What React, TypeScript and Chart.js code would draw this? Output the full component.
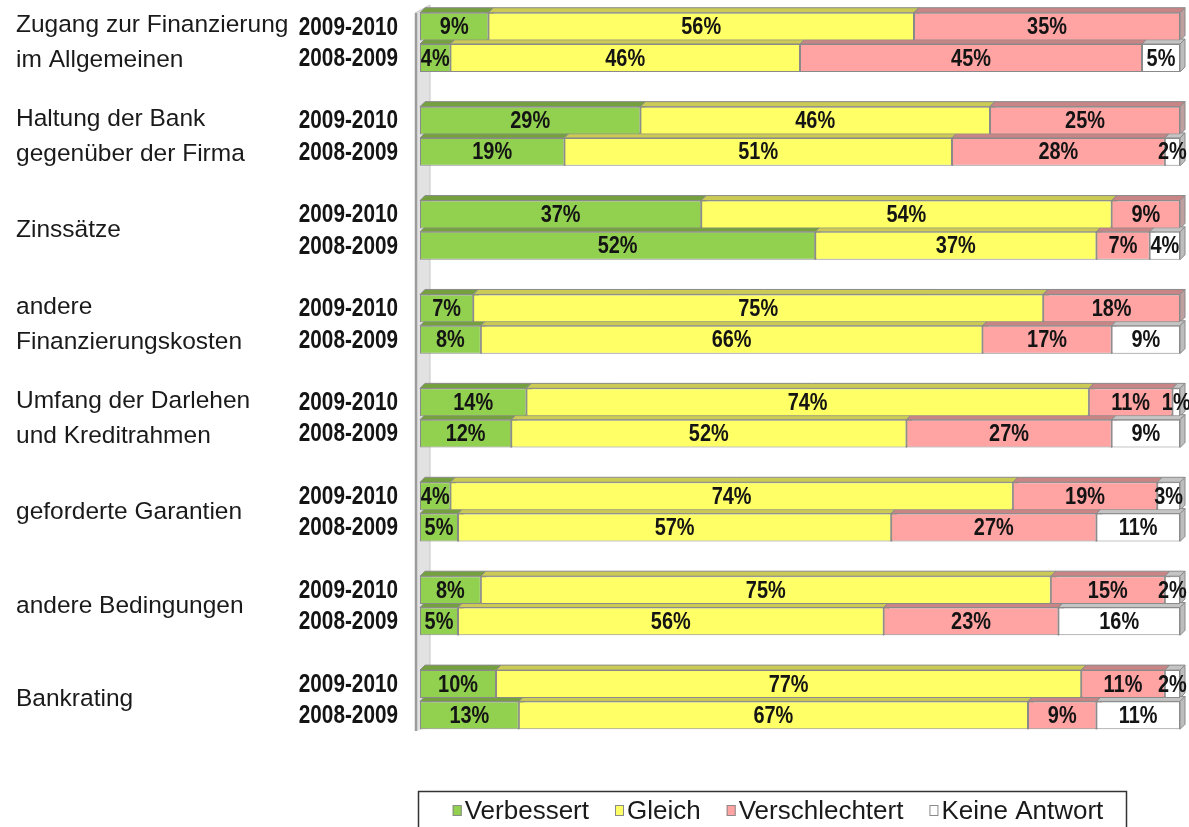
import React, { useEffect, useRef } from 'react';
import { Chart, registerables } from 'chart.js';
Chart.register(...registerables);

// Group names (one or two text lines each)
const groups: string[][] = [
  ['Zugang zur Finanzierung', 'im Allgemeinen'],
  ['Haltung der Bank', 'gegenüber der Firma'],
  ['Zinssätze'],
  ['andere', 'Finanzierungskosten'],
  ['Umfang der Darlehen', 'und Kreditrahmen'],
  ['geforderte Garantien'],
  ['andere Bedingungen'],
  ['Bankrating'],
];
const years = ['2009-2010', '2008-2009'];
const seriesNames = ['Verbessert', 'Gleich', 'Verschlechtert', 'Keine Antwort'];

// values per group: [2009-2010, 2008-2009] in percent
const verbessert = [[9, 4], [29, 19], [37, 52], [7, 8], [14, 12], [4, 5], [8, 5], [10, 13]];
const gleich = [[56, 46], [46, 51], [54, 37], [75, 66], [74, 52], [74, 57], [75, 56], [77, 67]];
const verschlechtert = [[35, 45], [25, 28], [9, 7], [18, 17], [11, 27], [19, 27], [15, 23], [11, 9]];
const keineAntwort = [[0, 5], [0, 2], [0, 4], [0, 9], [1, 9], [3, 11], [2, 16], [2, 11]];

const fillColors = ['#92D050', '#FFFF66', '#FFA3A3', '#FFFFFF'];
const topColors = ['#74A03E', '#CACA55', '#C98585', '#C4C4C4'];
const sideColors = ['#8AAE62', '#BDBD7A', '#BFA0A0', '#BDBDBD'];

const REGULAR = "'Liberation Sans', Arial, sans-serif";
const NARROW_SCALE = 0.83;

const labels: string[] = [];
groups.forEach((_, g) => {
  years.forEach((y) => labels.push(y));
  if (g < groups.length - 1) labels.push('');
});

function buildSeries(arr: number[][]): (number | null)[] {
  const out: (number | null)[] = [];
  arr.forEach((pair, g) => {
    pair.forEach((v) => out.push(v));
    if (g < arr.length - 1) out.push(null);
  });
  return out;
}

const allSeries = [verbessert, gleich, verschlechtert, keineAntwort];

const depth = 5;

function narrowText(ctx: CanvasRenderingContext2D, text: string, x: number, y: number) {
  ctx.save();
  ctx.translate(x, y);
  ctx.scale(NARROW_SCALE, 1);
  ctx.fillText(text, 0, 0);
  ctx.restore();
}

const threeDPlugin = {
  id: 'threeD',
  beforeDatasetsDraw(chart: any) {
    const { ctx, chartArea } = chart;
    const L = chartArea.left;
    ctx.save();
    // left wall
    ctx.fillStyle = '#E2E2E2';
    ctx.beginPath();
    ctx.moveTo(L - 5, chartArea.top + 2);
    ctx.lineTo(L + 10, chartArea.top - 6);
    ctx.lineTo(L + 10, chartArea.bottom - 3);
    ctx.lineTo(L - 5, chartArea.bottom);
    ctx.closePath();
    ctx.fill();
    ctx.strokeStyle = '#9C9C9C';
    ctx.lineWidth = 2.5;
    ctx.beginPath();
    ctx.moveTo(L - 4, chartArea.top + 2);
    ctx.lineTo(L - 4, chartArea.bottom);
    ctx.stroke();
    ctx.strokeStyle = '#C8C8C8';
    ctx.lineWidth = 1;
    ctx.beginPath();
    ctx.moveTo(L - 5, chartArea.top + 2);
    ctx.lineTo(L + 10, chartArea.top - 6);
    ctx.lineTo(L + 10, chartArea.bottom - 3);
    ctx.stroke();

    chart.data.datasets.forEach((ds: any, di: number) => {
      const meta = chart.getDatasetMeta(di);
      meta.data.forEach((el: any, i: number) => {
        const v = ds.data[i];
        if (v == null || v <= 0) return;
        const x0 = Math.min(el.base, el.x);
        const x1 = Math.max(el.base, el.x);
        const y0 = el.y - el.height / 2;
        const y1 = el.y + el.height / 2;
        ctx.lineWidth = 1;
        ctx.strokeStyle = '#8A8A8A';
        // top face
        ctx.fillStyle = topColors[di];
        ctx.beginPath();
        ctx.moveTo(x0, y0);
        ctx.lineTo(x0 + depth, y0 - depth);
        ctx.lineTo(x1 + depth, y0 - depth);
        ctx.lineTo(x1, y0);
        ctx.closePath();
        ctx.fill();
        ctx.stroke();
        // right side face
        ctx.fillStyle = sideColors[di];
        ctx.beginPath();
        ctx.moveTo(x1, y0);
        ctx.lineTo(x1 + depth, y0 - depth);
        ctx.lineTo(x1 + depth, y1 - depth);
        ctx.lineTo(x1, y1);
        ctx.closePath();
        ctx.fill();
        ctx.stroke();
      });
    });
    ctx.restore();
  },
  afterDatasetsDraw(chart: any) {
    const { ctx } = chart;
    ctx.save();
    ctx.font = `bold 24px ${REGULAR}`;
    ctx.fillStyle = '#141414';
    ctx.textAlign = 'center';
    ctx.textBaseline = 'middle';
    chart.data.datasets.forEach((ds: any, di: number) => {
      const meta = chart.getDatasetMeta(di);
      meta.data.forEach((el: any, i: number) => {
        const v = ds.data[i];
        if (v == null || v <= 0) return;
        const cx = (el.base + el.x) / 2;
        narrowText(ctx, `${v}%`, cx, el.y + 1);
      });
    });
    ctx.restore();
  },
  afterDraw(chart: any) {
    const { ctx } = chart;
    const yScale = chart.scales.y;
    ctx.save();
    // year labels (category labels of the y scale)
    ctx.font = `bold 25px ${REGULAR}`;
    ctx.fillStyle = '#141414';
    ctx.textAlign = 'right';
    ctx.textBaseline = 'middle';
    chart.data.labels.forEach((lab: string, i: number) => {
      if (!lab) return;
      narrowText(ctx, lab, 398, yScale.getPixelForValue(i) + 1);
    });

    // group names
    ctx.font = `24.5px ${REGULAR}`;
    ctx.fillStyle = '#1A1A1A';
    ctx.textAlign = 'left';
    ctx.textBaseline = 'middle';
    groups.forEach((lines, g) => {
      const c = (yScale.getPixelForValue(g * 3) + yScale.getPixelForValue(g * 3 + 1)) / 2;
      if (lines.length === 1) {
        ctx.fillText(lines[0], 16, c);
      } else {
        ctx.fillText(lines[0], 16, c - 17);
        ctx.fillText(lines[1], 16, c + 18);
      }
    });

    // legend
    ctx.strokeStyle = '#333333';
    ctx.lineWidth = 1.5;
    ctx.strokeRect(418.5, 791.5, 708, 80);
    ctx.font = `26px ${REGULAR}`;
    ctx.textBaseline = 'alphabetic';
    ctx.textAlign = 'left';
    const markerW = 9;
    const textGap = 3;
    const itemGap = 26;
    const widths = seriesNames.map((n) => ctx.measureText(n).width);
    const total = widths.reduce((a, b) => a + b, 0) + seriesNames.length * (markerW + textGap) + (seriesNames.length - 1) * itemGap;
    let x = 778 - total / 2;
    seriesNames.forEach((n, i) => {
      ctx.fillStyle = fillColors[i];
      ctx.fillRect(x, 805, markerW, 11);
      ctx.strokeStyle = '#8A8A8A';
      ctx.lineWidth = 1;
      ctx.strokeRect(x + 0.5, 805.5, markerW - 1, 10);
      ctx.fillStyle = '#1A1A1A';
      ctx.fillText(n, x + markerW + textGap, 819);
      x += markerW + textGap + widths[i] + itemGap;
    });
    ctx.restore();
  },
};

export default function App() {
  const canvasRef = useRef<HTMLCanvasElement | null>(null);

  useEffect(() => {
    if (!canvasRef.current) return;
    const chart = new Chart(canvasRef.current, {
      type: 'bar',
      data: {
        labels,
        datasets: seriesNames.map((name, i) => ({
          label: name,
          data: buildSeries(allSeries[i]),
          backgroundColor: fillColors[i],
          borderColor: '#8A8A8A',
          borderWidth: 1,
          borderSkipped: false,
          barPercentage: 0.89,
          categoryPercentage: 1,
        })),
      },
      options: {
        indexAxis: 'y',
        animation: false,
        responsive: true,
        maintainAspectRatio: false,
        layout: { padding: { top: 11, right: 9, bottom: 96, left: 0 } },
        plugins: {
          legend: { display: false },
          tooltip: { enabled: false },
        },
        scales: {
          x: { stacked: true, min: 0, max: 100, display: false },
          y: {
            stacked: true,
            grid: { display: false, drawTicks: false },
            border: { display: false },
            ticks: { display: false, autoSkip: false },
            afterFit: (scale: any) => {
              scale.width = 420;
              scale.paddingTop = 0;
              scale.paddingBottom = 0;
            },
          },
        },
      },
      plugins: [threeDPlugin],
    } as any);
    return () => chart.destroy();
  }, []);

  return (
    <div style={{ position: 'fixed', left: 0, top: 0, width: 1189, height: 827, background: '#fff' }}>
      <canvas ref={canvasRef} />
    </div>
  );
}
